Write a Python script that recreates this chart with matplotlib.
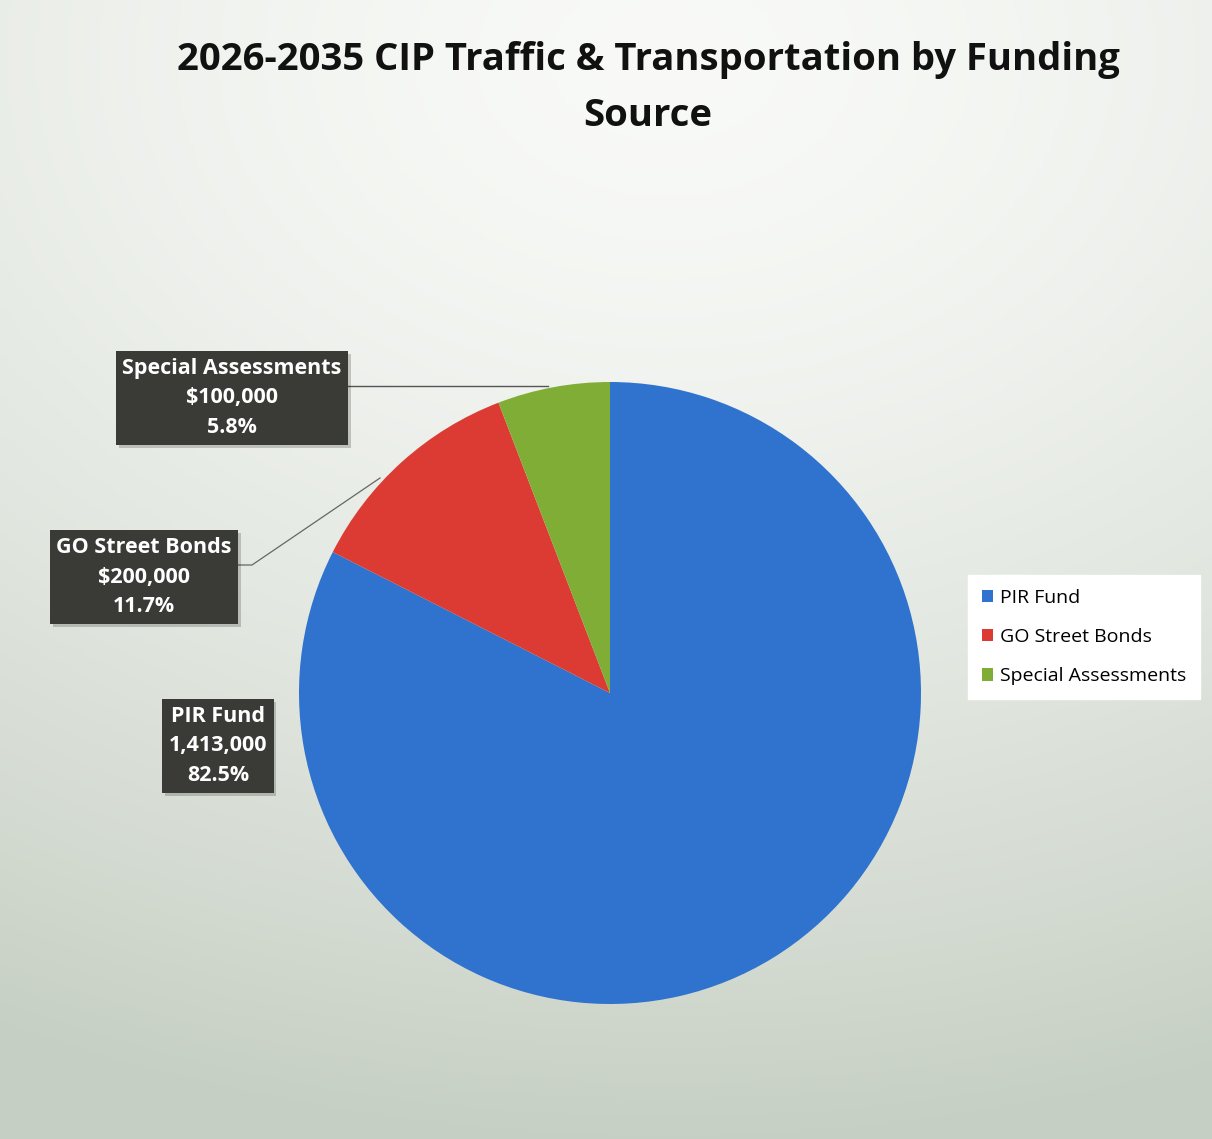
import numpy as np
import matplotlib.pyplot as plt
import matplotlib.patheffects as pe

# funding sources
sources = ["PIR Fund", "GO Street Bonds", "Special Assessments"]
amounts = [1413000, 200000, 100000]
amount_text = ["1,413,000", "$200,000", "$100,000"]
colors = ["#2f73cf", "#dc3b33", "#80ad36"]

W, H = 1212, 1139
fig = plt.figure(figsize=(W / 100, H / 100), dpi=100)
ax = fig.add_axes([0, 0, 1, 1])
ax.set_xlim(0, W)
ax.set_ylim(0, H)
ax.axis("off")

# soft gray-green backdrop, lighter near the top middle
xx, yy = np.meshgrid(np.linspace(0, 1, 300), np.linspace(0, 1, 300))
d = np.sqrt(((xx - 0.55) / 1.3) ** 2 + ((yy - 0.05) / 1.0) ** 2)
d = np.clip(d / 0.95, 0, 1)
top = np.array([0.975, 0.98, 0.97])
bottom = np.array([0.78, 0.815, 0.77])
bg = top + (bottom - top) * d[..., None] ** 1.5
ax.imshow(bg, extent=[0, W, 0, H], origin="upper", zorder=0, aspect="auto")

# pie, clockwise from 12 o'clock
cx, cy, r = 610, H - 693, 311
ax.pie(amounts, colors=colors, startangle=90, counterclock=False,
       center=(cx, cy), radius=r, frame=True,
       wedgeprops=dict(linewidth=0))
ax.set_xlim(0, W)
ax.set_ylim(0, H)
ax.set_aspect("auto")
ax.axis("off")

total = sum(amounts)
pcts = [a / total * 100 for a in amounts]

font = "Open Sans"
box_style = dict(boxstyle="square,pad=0.3", fc="#3a3a37", ec="none")
shadow = [pe.withSimplePatchShadow(offset=(2, -2), alpha=0.2)]

# (x, y) of each callout centre in pixels from the top-left
label_pos = [(218, 746), (144, 577), (232, 398)]
for i in range(len(sources)):
    lx, ly = label_pos[i]
    t = ax.text(lx, H - ly, f"{sources[i]}\n{amount_text[i]}\n{pcts[i]:.1f}%",
                ha="center", va="center", color="white", fontsize=15.5,
                fontweight="bold", family=font, linespacing=1.55,
                bbox=box_style, zorder=5)
    t.get_bbox_patch().set_path_effects(shadow)

# leader lines
ax.plot([347, 548], [H - 386, H - 386], color="#555555", lw=1, zorder=4)
ax.plot([238, 252, 380], [H - 565, H - 565, H - 478], color="#666666", lw=0.9, zorder=4)

leg = ax.legend(sources, loc="center left", bbox_to_anchor=(968 / W, 1 - 637 / H),
                frameon=True, fancybox=False, framealpha=1, edgecolor="white",
                prop=dict(family=font, size=14), handlelength=0.6,
                handleheight=0.6, handletextpad=0.35, labelspacing=1.1,
                borderpad=0.7, borderaxespad=0)
leg.get_frame().set_facecolor("white")

ax.text(648, H - 60, "2026-2035 CIP Traffic & Transportation by Funding",
        ha="center", va="center", fontsize=27.5, fontweight="bold",
        family=font, color="#111111")
ax.text(648, H - 116, "Source", ha="center", va="center", fontsize=27.5,
        fontweight="bold", family=font, color="#111111")

fig.savefig("out.png", dpi=100)
